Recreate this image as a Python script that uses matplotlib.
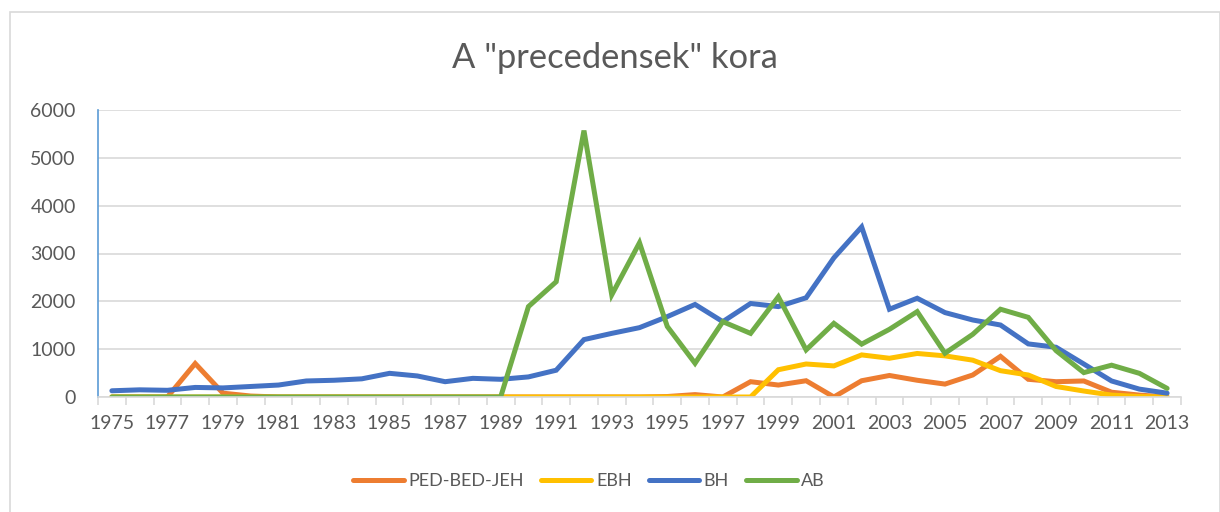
import numpy as np
import matplotlib.pyplot as plt
from matplotlib.patches import Rectangle

years = list(range(1975, 2014))

ped_bed_jeh = [0, 0, 0, 700, 80, 20, 0, 0, 0, 0,
               0, 0, 0, 0, 0, 0, 0, 0, 0, 0,
               10, 50, 0, 320, 250, 340, 0, 340, 450, 350,
               270, 460, 850, 370, 320, 335, 100, 40, 0]
ebh = [0, 0, 0, 0, 0, 0, 0, 0, 0, 0,
       0, 0, 0, 0, 0, 0, 0, 0, 0, 0,
       0, 0, 0, 0, 570, 690, 650, 880, 810, 910,
       860, 770, 550, 460, 220, 125, 40, 10, 0]
bh = [130, 150, 140, 200, 190, 220, 250, 335, 350, 380,
      495, 440, 320, 390, 370, 420, 560, 1200, 1330, 1450,
      1680, 1935, 1575, 1955, 1890, 2075, 2910, 3555, 1835, 2065,
      1765, 1610, 1505, 1110, 1040, 690, 335, 165, 80]
ab = [0, 0, 0, 0, 0, 0, 0, 0, 0, 0,
      0, 0, 0, 0, 0, 1890, 2410, 5570, 2135, 3225,
      1475, 705, 1575, 1330, 2095, 985, 1540, 1105, 1415, 1785,
      915, 1310, 1835, 1665, 970, 510, 665, 495, 180]

series = [("PED-BED-JEH", ped_bed_jeh, "#ED7D31"),
          ("EBH", ebh, "#FFC000"),
          ("BH", bh, "#4472C4"),
          ("AB", ab, "#70AD47")]

txt = "#595959"
plt.rcParams['font.family'] = ['Lato', 'DejaVu Sans']

fig = plt.figure(figsize=(12.2, 5.12), dpi=100)
ax = fig.add_axes([98 / 1220, 1 - 397 / 512, (1181 - 98) / 1220, (397 - 110) / 512])

x = np.arange(len(years))
for name, vals, col in series:
    ax.plot(x, vals, color=col, lw=3.6, label=name, solid_joinstyle='miter', solid_capstyle='round')

ax.set_xlim(-0.5, len(years) - 0.5)
ax.set_ylim(0, 6000)
ax.set_yticks(range(0, 6001, 1000))
ax.yaxis.grid(True, color="#D9D9D9", lw=1.2)
ax.set_axisbelow(True)

ax.set_xticks(x[::2])
ax.set_xticklabels([str(y) for y in years[::2]])
ax.set_xticks(np.arange(-0.5, len(years), 1), minor=True)
ax.tick_params(axis='x', which='major', length=0, pad=13, labelsize=14, labelcolor=txt)
ax.tick_params(axis='x', which='minor', length=6, color="#D9D9D9", width=1.2)
ax.tick_params(axis='y', length=0, pad=16, labelsize=14, labelcolor=txt)

for s in ['top', 'right']:
    ax.spines[s].set_visible(False)
ax.spines['left'].set_color("#5B9BD5")
ax.spines['left'].set_linewidth(1.2)
ax.spines['bottom'].set_color("#D9D9D9")
ax.spines['bottom'].set_linewidth(1.2)

fig.text(0.504, 1 - 58 / 512, 'A "precedensek" kora', ha='center', va='center',
         fontsize=24.8, color=txt)

fig.legend(loc='center', bbox_to_anchor=(589 / 1220, 1 - 481 / 512), ncol=4, frameon=False,
           fontsize=13, labelcolor=txt, handlelength=2.8, handletextpad=0.25, columnspacing=0.95)

fig.patches.append(Rectangle((9.5 / 1220, -0.05), (1219.5 - 9.5) / 1220, 1.05 - 11.5 / 512,
                             transform=fig.transFigure, fill=False, ec="#D9D9D9", lw=1.2))

fig.savefig("out.png", dpi=100)
